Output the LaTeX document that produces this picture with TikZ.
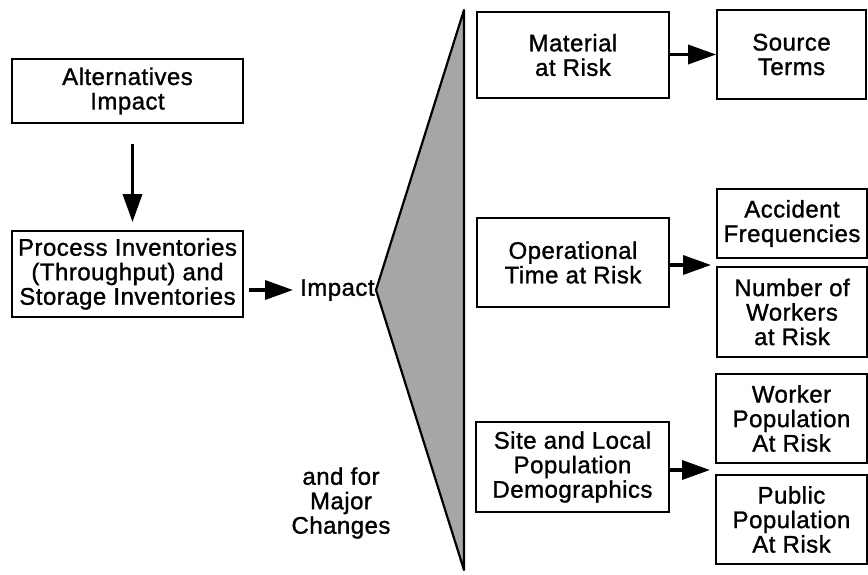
\documentclass[tikz,border=0pt]{standalone}
\usepackage{fontspec}
\setmainfont{Liberation Sans}[LetterSpace=2.0,FakeBold=1.2]
\usetikzlibrary{arrows.meta}

\begin{document}
\begin{tikzpicture}[x=1pt,y=-1pt,
  box/.style={draw,line width=1.8pt,align=center,inner sep=0pt,font=\fontsize{24}{24.5}\selectfont},
  lbl/.style={align=center,inner sep=4pt,font=\fontsize{24}{24.5}\selectfont},
  arr/.style={line width=3.5pt,-{Triangle[length=28pt,width=19pt]}}]
  \useasboundingbox (0,0) rectangle (868,575);

  %くさび
  \draw[line width=2.2pt,line join=round,fill=black!35] (464,10)--(376,290)--(464,570)--cycle;

  %左の箱
  \node[box,minimum width=231pt,minimum height=64pt] (alt) at (127.5,91) {Alternatives\\Impact};
  \node[box,minimum width=231pt,minimum height=86pt] (proc) at (127.5,274) {Process Inventories\\(Throughput) and\\Storage Inventories};

  %ラベル
  \node[lbl,anchor=west] (imp) at (296,290) {Impact};
  \node[lbl] (major) at (341,503) {and for\\Major\\Changes};

  %中の箱
  \node[box,minimum width=192pt,minimum height=86pt] (mat) at (573,55) {Material\\at Risk};
  \node[box,minimum width=192pt,minimum height=89pt] (op) at (573,262.5) {Operational\\Time at Risk};
  \node[box,minimum width=193pt,minimum height=90pt] (site) at (572.5,467) {Site and Local\\Population\\Demographics};

  %右の箱
  \node[box,minimum width=149pt,minimum height=89pt] (src) at (791.5,54.5) {Source\\Terms};
  \node[box,minimum width=150pt,minimum height=69pt] (acc) at (792,223.5) {Accident\\Frequencies};
  \node[box,minimum width=150pt,minimum height=90pt] (num) at (792,312) {Number of\\Workers\\at Risk};
  \node[box,minimum width=151pt,minimum height=89pt] (wrk) at (791.5,418.5) {Worker\\Population\\At Risk};
  \node[box,minimum width=151pt,minimum height=89pt] (pub) at (791.5,519.5) {Public\\Population\\At Risk};

  %すきま
  \coordinate (gap1) at (711,265);
  \coordinate (gap2) at (710,470);

  %矢印
  \draw[arr,shorten <=20pt,shorten >=8pt] ([xshift=5pt]alt.south) -- ([xshift=5pt]proc.north);
  \draw[arr,shorten <=5pt,shorten >=3pt] (proc.east |- imp.west) -- (imp.west);
  \draw[arr] (mat.east |- src.west) -- (src.west);
  \draw[arr] (op.east |- gap1) -- (gap1);
  \draw[arr] (site.east |- gap2) -- (gap2);
\end{tikzpicture}
\end{document}
